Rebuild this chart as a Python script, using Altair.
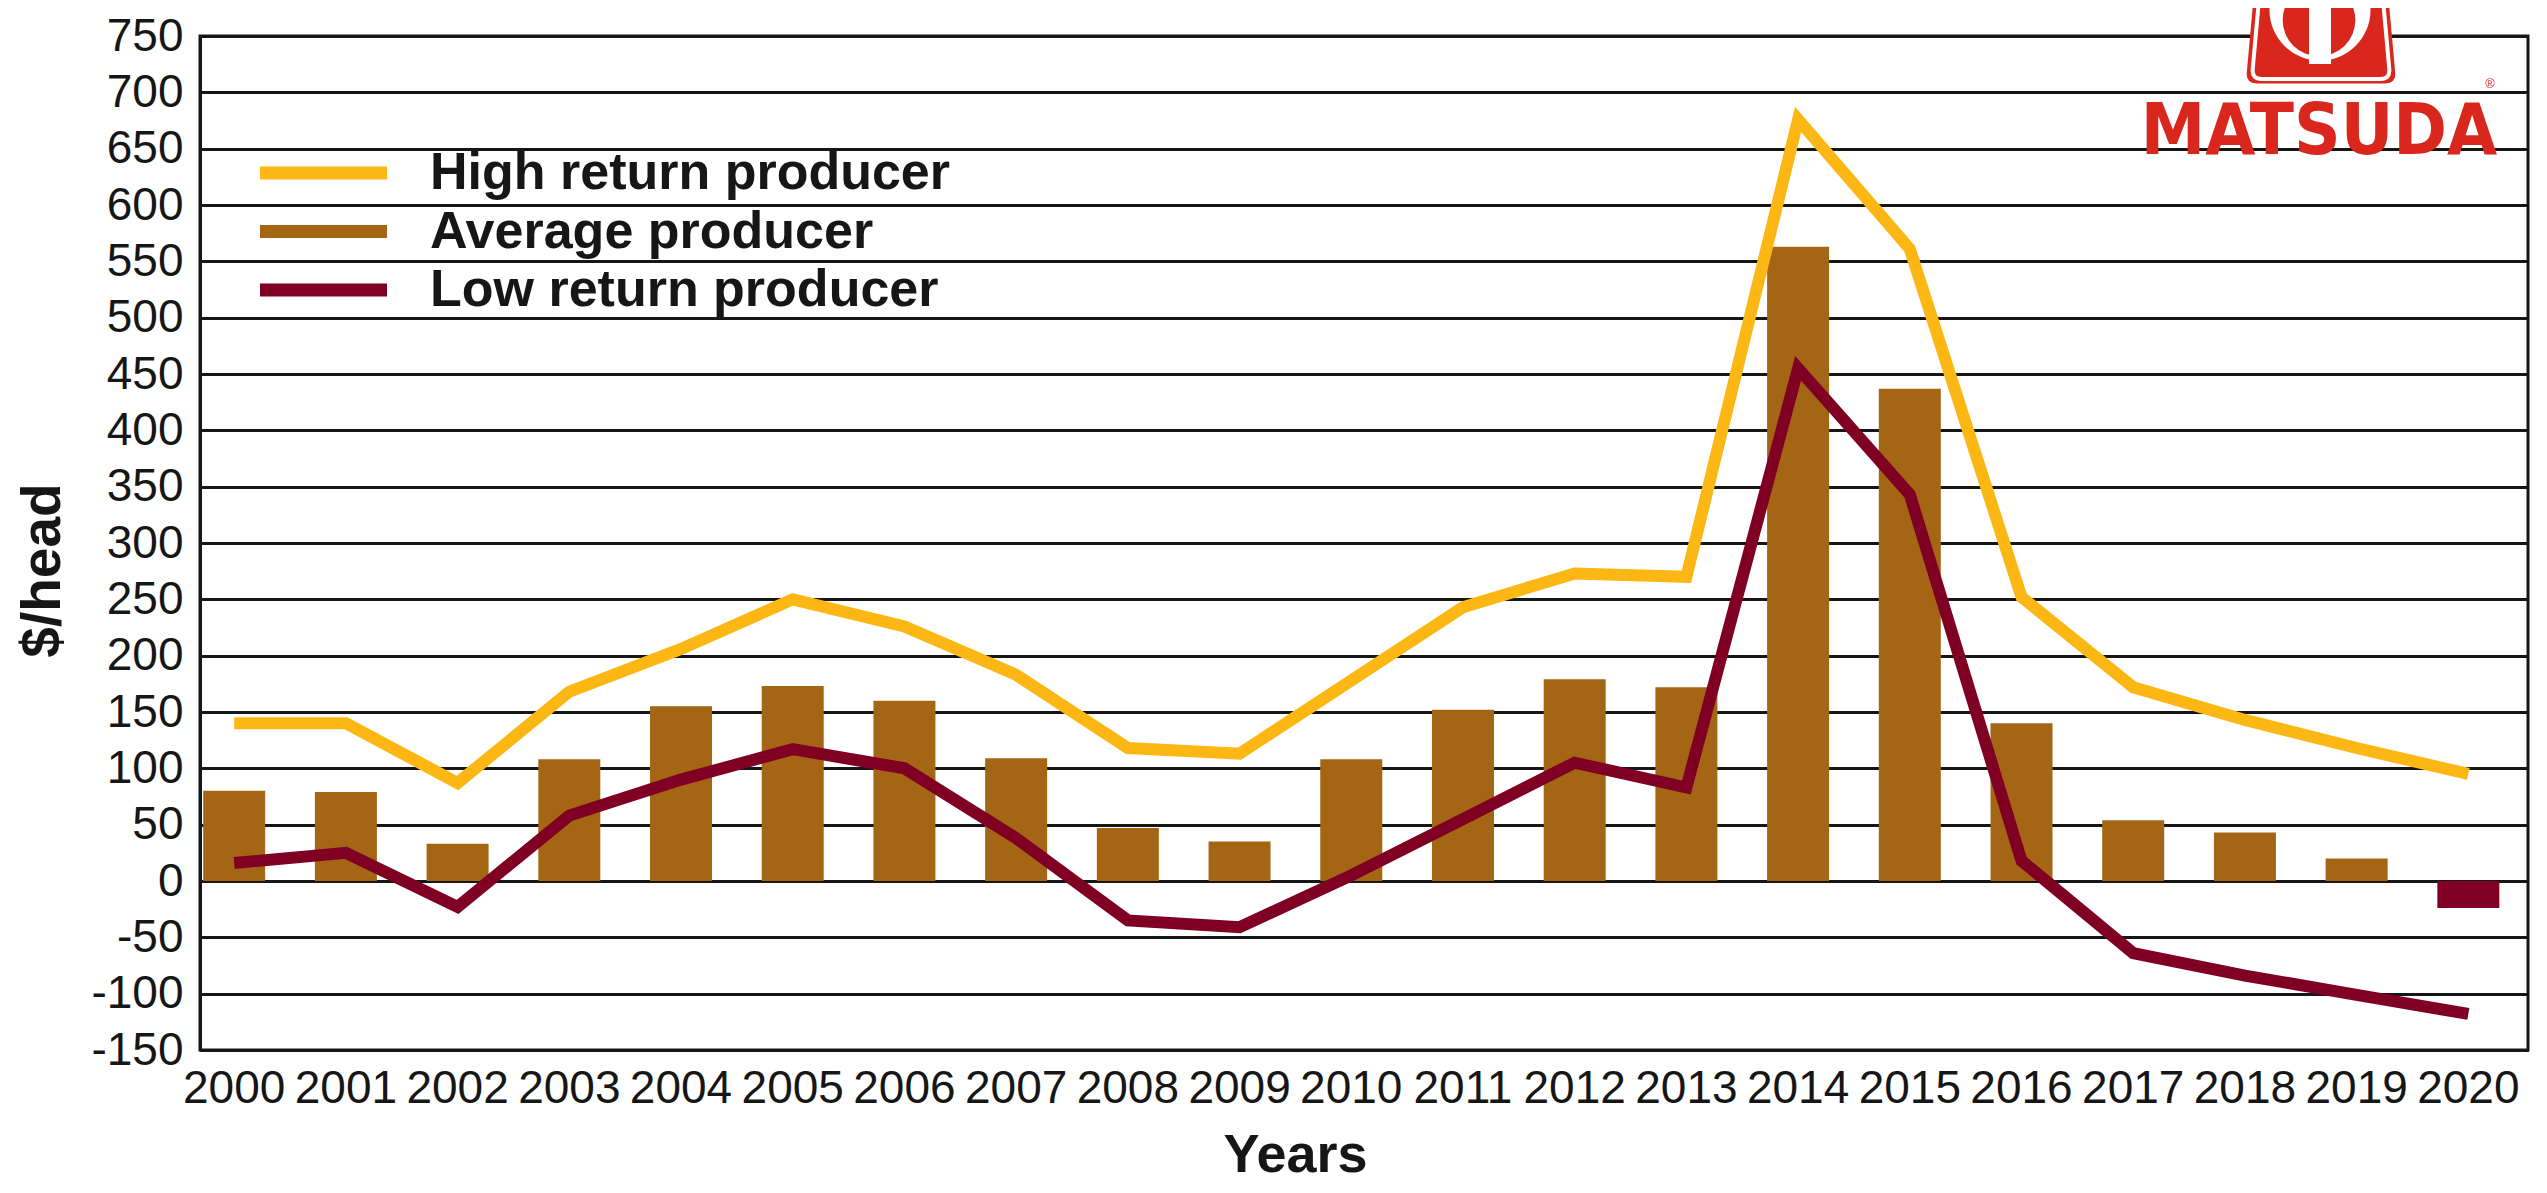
import altair as alt
import pandas as pd

# ---------------- data ----------------
years = [str(y) for y in range(2000, 2021)]
high_return = [140, 140, 87, 168, 206, 250, 226, 183, 118, 113, 178, 243, 273, 270, 676, 561, 252, 172, 143, 118, 95]
average = [80, 79, 33, 108, 155, 173, 160, 109, 47, 35, 108, 152, 179, 172, 563, 437, 140, 54, 43, 20, -24]
low_return = [16, 25, -23, 58, 90, 117, 100, 38, -35, -41, 5, 55, 105, 83, 455, 343, 18, -64, -84, -101, -118]
series_names = ["High return producer", "Average producer", "Low return producer"]
series_colors = ["#FDB714", "#A46614", "#800024"]
y_ticks = list(range(-150, 751, 50))
logo_text = "MATSUDA"
logo_mark = "\u00ae"

# ---------------- styling ----------------
SANS = "'Liberation Sans', Arial, sans-serif"
COND = "'DejaVu Sans Condensed', 'Liberation Sans', sans-serif"
INK = "#161616"
RED = "#D9271E"
W, H = 2328, 1014
TOP = 28

bars_df = pd.DataFrame({"year": years, "avg": average})
lines_df = pd.concat(
    [
        pd.DataFrame({"year": years, "value": high_return, "series": series_names[0]}),
        pd.DataFrame({"year": years, "value": low_return, "series": series_names[2]}),
    ],
    ignore_index=True,
)
legend_df = pd.DataFrame({"series": series_names})
one = pd.DataFrame({"k": [0]})

x_scale = alt.Scale(paddingInner=0.445, paddingOuter=0.1425, align=0.1)
y_scale = alt.Scale(domain=[-150, 750], nice=False, zero=False)
color_scale = alt.Scale(domain=series_names, range=series_colors)

x_axis = alt.Axis(
    title="Years", labelFont=SANS, labelFontSize=46, labelColor=INK, labelPadding=16,
    labelAngle=0, ticks=False, domainColor=INK, domainWidth=3, grid=False,
    titleFont=SANS, titleFontSize=54, titleFontWeight="bold", titleColor=INK,
    titleX=1095, titleY=121, titleAlign="center", titleBaseline="alphabetic",
)
y_axis = alt.Axis(
    title="$/head", values=y_ticks, labelExpr="'' + datum.value",
    labelFont=SANS, labelFontSize=46, labelColor=INK,
    labelPadding=17, ticks=False, domainColor=INK, domainWidth=3, grid=True,
    gridColor=INK, gridWidth=3, gridOpacity=1,
    titleFont=SANS, titleFontSize=55, titleFontWeight="bold", titleColor=INK,
    titleAngle=270, titleX=-158, titleY=534, titleAlign="center", titleBaseline="middle",
)

bars = alt.Chart(bars_df).mark_bar().encode(
    x=alt.X("year:O", scale=x_scale, axis=x_axis),
    y=alt.Y("avg:Q", scale=y_scale, axis=y_axis),
    color=alt.condition("datum.avg < 0", alt.value(series_colors[2]), alt.value(series_colors[1])),
)

lines = alt.Chart(lines_df).mark_line(strokeWidth=12, strokeJoin="miter", strokeCap="butt").encode(
    x=alt.X("year:O", scale=x_scale, axis=x_axis),
    y=alt.Y("value:Q", scale=y_scale, axis=y_axis),
    color=alt.Color("series:N", scale=color_scale, legend=None),
)

main = alt.layer(bars, lines)

leg_y = alt.Y(
    "series:N",
    scale=alt.Scale(type="point", domain=series_names, range=[137, 254], padding=0),
    axis=None,
)
leg_rules = alt.Chart(legend_df).mark_rule(strokeWidth=13, strokeCap="butt").encode(
    x=alt.value(60), x2=alt.value(187), y=leg_y,
    color=alt.Color("series:N", scale=color_scale, legend=None),
)
leg_text = alt.Chart(legend_df).mark_text(
    align="left", baseline="middle", font=SANS, fontSize=52, fontWeight="bold", color=INK
).encode(x=alt.value(230), y=leg_y, text="series:N")
legend_layer = alt.layer(leg_rules, leg_text)

# ---------------- logo ----------------
icon_path = "M -0.86 -1 L 0.86 -1 L 0.99 0.44 Q 1 0.58 0.86 0.58 L -0.86 0.58 Q -1 0.58 -0.99 0.44 Z"
logo_shape = alt.Chart(one).mark_point(
    shape=icon_path, filled=True, color=RED, size=150 ** 2, opacity=1, strokeWidth=0
).encode(x=alt.value(2121), y=alt.value(4))
logo_inner = alt.Chart(one).mark_point(
    shape=icon_path, filled=False, color="white", strokeWidth=4, size=138 ** 2, opacity=1
).encode(x=alt.value(2121), y=alt.value(3))
logo_ring = alt.Chart(one).mark_point(
    shape="circle", filled=True, color="white", size=3.1416 * 57 ** 2, opacity=1, strokeWidth=0
).encode(x=alt.value(2120), y=alt.value(-26))
logo_disc = alt.Chart(one).mark_point(
    shape="circle", filled=True, color=RED, size=3.1416 * 41 ** 2, opacity=1, strokeWidth=0
).encode(x=alt.value(2119), y=alt.value(-16))
logo_bar = alt.Chart(one).mark_rule(color="white", strokeWidth=22).encode(
    x=alt.value(2120), y=alt.value(-34), y2=alt.value(28)
)
logo_word = alt.Chart(one).mark_text(
    font=COND, fontWeight="bold", fontSize=72, color=RED, align="center", baseline="alphabetic"
).encode(x=alt.value(2119), y=alt.value(118), text=alt.value(logo_text))
logo_r = alt.Chart(one).mark_text(fontSize=13, color=RED, align="center", baseline="middle").encode(
    x=alt.value(2290), y=alt.value(48), text=alt.value(logo_mark)
)

chart = (
    alt.layer(main, legend_layer, logo_shape, logo_inner, logo_ring, logo_disc, logo_bar, logo_word, logo_r)
    .resolve_scale(y="independent")
    .properties(
        width=W,
        height=H,
        padding={"left": 192, "top": TOP, "right": 5, "bottom": 132},
        autosize=alt.AutoSizeParams(type="none"),
        background="white",
    )
    .configure_view(stroke=INK, strokeWidth=3)
)

chart.save("out.html", embed_options={"renderer": "svg", "actions": False})
